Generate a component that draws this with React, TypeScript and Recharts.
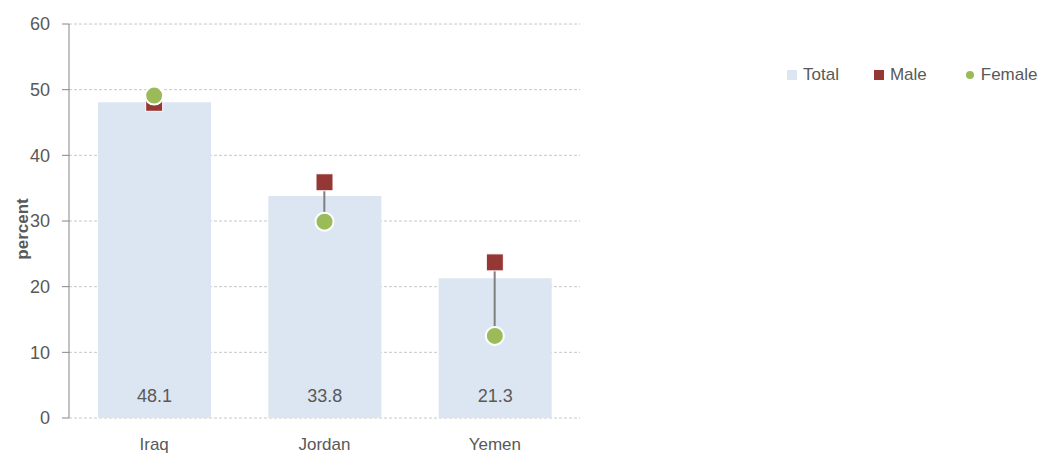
import React from "react";
import {
  ComposedChart, Bar, Line, XAxis, YAxis, CartesianGrid, LabelList, Label,
} from "recharts";

const countries = ["Iraq", "Jordan", "Yemen"];
const total = [48.1, 33.8, 21.3];
const male = [48.0, 35.9, 23.7];
const female = [49.1, 29.9, 12.5];
const yTicks = [0, 10, 20, 30, 40, 50, 60];

const data = countries.map((c, i) => ({
  name: c,
  total: total[i],
  male: male[i],
  female: female[i],
  gap: [Math.min(male[i], female[i]), Math.max(male[i], female[i])],
}));

const FONT = '"Liberation Sans", Arial, sans-serif';
const TEXT = "#595959";
const C_TOTAL = "#dce6f2";
const C_MALE = "#953735";
const C_FEMALE = "#9bbb59";

const Square = (p: any) => {
  if (p.cx == null || p.cy == null) return null;
  const s = 17;
  return <rect key={p.key} x={p.cx - s / 2} y={p.cy - s / 2} width={s} height={s} fill={C_MALE} stroke="#fff" strokeWidth={1} />;
};

const Dot = (p: any) => {
  if (p.cx == null || p.cy == null) return null;
  return <circle key={p.key} cx={p.cx} cy={p.cy} r={9} fill={C_FEMALE} stroke="#fff" strokeWidth={2} />;
};

const Connector = (p: any) => {
  const cx = p.x + p.width / 2;
  return <line x1={cx} x2={cx} y1={p.y} y2={p.y + p.height} stroke="#7f7f7f" strokeWidth={2} />;
};

const BarValue = (p: any) => (
  <text x={p.x + p.width / 2} y={p.y + p.height - 16} textAnchor="middle" fill={TEXT}
    fontSize={18} fontFamily={FONT}>
    {Number(p.value).toFixed(1)}
  </text>
);

const LegendBox = () => (
  <div style={{
    position: "absolute", left: 787, top: 65, display: "flex", alignItems: "center",
    fontFamily: FONT, fontSize: 17, color: TEXT, whiteSpace: "nowrap",
  }}>
    <span style={{ width: 10, height: 10, background: C_TOTAL, display: "inline-block", marginRight: 6 }} />
    <span style={{ marginRight: 35 }}>Total</span>
    <span style={{ width: 10, height: 10, background: C_MALE, display: "inline-block", marginRight: 6 }} />
    <span style={{ marginRight: 39 }}>Male</span>
    <span style={{ width: 8, height: 8, borderRadius: 4, background: C_FEMALE, display: "inline-block", marginRight: 7 }} />
    <span>Female</span>
  </div>
);

const YTitle = (p: any) => {
  const vb = p.viewBox;
  const x = vb.x + 22;
  const y = vb.y + vb.height / 2 + 8;
  return (
    <text x={x} y={y} transform={`rotate(-90 ${x} ${y})`} textAnchor="middle" dominantBaseline="central"
      fill={TEXT} fontSize={17} fontWeight="bold" fontFamily={FONT}>
      percent
    </text>
  );
};

export default function App() {
  return (
    <div style={{ position: "absolute", left: 0, top: 0, width: 1042, height: 453, background: "#fff" }}>
      <ComposedChart width={1042} height={453} data={data}
        margin={{ top: 24, right: 462, bottom: 5, left: 0 }}>
        <CartesianGrid vertical={false} stroke="#c8c8c8" strokeDasharray="3 2" />
        <XAxis dataKey="name" axisLine={false} tickLine={false} tickSize={0} tickMargin={20}
          tick={{ fill: TEXT, fontSize: 17, fontFamily: FONT }} />
        <XAxis dataKey="name" xAxisId="c" hide />
        <YAxis domain={[0, 60]} ticks={yTicks} width={69} interval={0}
          axisLine={{ stroke: "#868686" }} tickLine={{ stroke: "#868686" }} tickSize={7} tickMargin={12}
          tick={{ fill: TEXT, fontSize: 18, fontFamily: FONT }}>
          <Label content={YTitle} />
        </YAxis>
        <Bar dataKey="total" fill={C_TOTAL} barSize={113} isAnimationActive={false}>
          <LabelList dataKey="total" content={BarValue} />
        </Bar>
        <Bar dataKey="gap" xAxisId="c" barSize={2} shape={Connector} isAnimationActive={false} />
        <Line dataKey="male" stroke="none" dot={Square} activeDot={false} isAnimationActive={false} />
        <Line dataKey="female" stroke="none" dot={Dot} activeDot={false} isAnimationActive={false} />
      </ComposedChart>
      <LegendBox />
    </div>
  );
}
